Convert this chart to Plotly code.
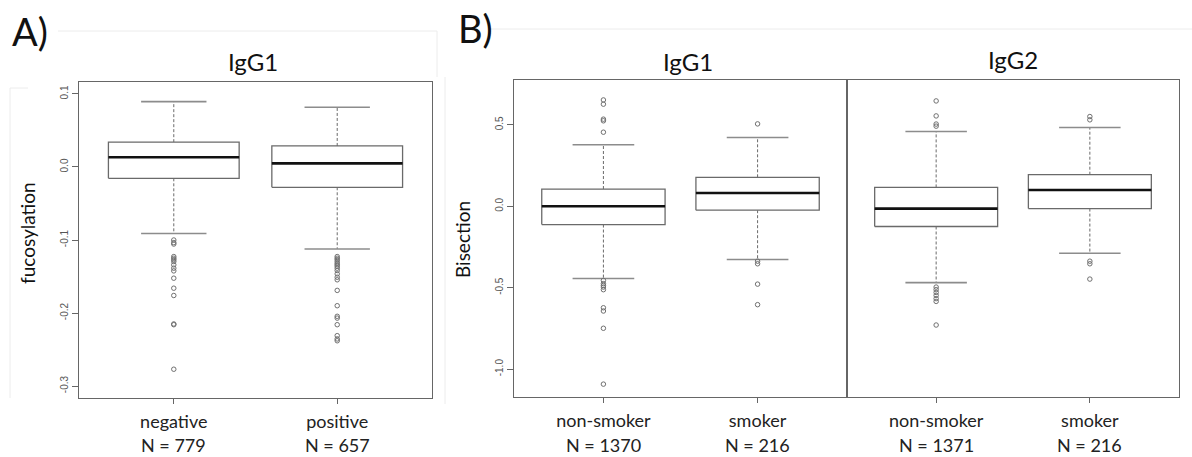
import plotly.graph_objects as go

W, H = 1192, 457

# ---------------- data ----------------
# Panel A: IgG1 fucosylation
a_categories = ["negative", "positive"]
a_counts = ["N = 779", "N = 657"]
a_q1 = [-0.0155, -0.0278]
a_median = [0.0133, 0.005]
a_q3 = [0.034, 0.0288]
a_lowerfence = [-0.091, -0.1123]
a_upperfence = [0.0895, 0.0818]
a_outliers = [
    [-0.100, -0.1036, -0.1055, -0.1227, -0.125, -0.127, -0.1295, -0.134, -0.1386,
     -0.1423, -0.1523, -0.166, -0.176, -0.215, -0.216, -0.277],
    [-0.1227, -0.125, -0.127, -0.1295, -0.132, -0.134, -0.136, -0.1386, -0.1418,
     -0.1464, -0.151, -0.1545, -0.169, -0.19, -0.2045, -0.207, -0.216, -0.231,
     -0.2355, -0.238],
]
a_yticks = [-0.3, -0.2, -0.1, 0.0, 0.1]
a_yticklabels = ["-0.3", "-0.2", "-0.1", "0.0", "0.1"]

# Panel B: Bisection, IgG1 and IgG2
b_categories = ["non-smoker", "smoker"]
b1_counts = ["N = 1370", "N = 216"]
b1_q1 = [-0.112, -0.024]
b1_median = [0.0, 0.082]
b1_q3 = [0.106, 0.178]
b1_lowerfence = [-0.443, -0.327]
b1_upperfence = [0.378, 0.4225]
b1_outliers = [
    [0.653, 0.627, 0.535, 0.525, 0.455, -0.455, -0.475, -0.486, -0.496, -0.512,
     -0.623, -0.643, -0.749, -1.092],
    [0.506, -0.337, -0.353, -0.478, -0.604],
]
b2_counts = ["N = 1371", "N = 216"]
b2_q1 = [-0.124, -0.014]
b2_median = [-0.014, 0.100]
b2_q3 = [0.116, 0.194]
b2_lowerfence = [-0.469, -0.288]
b2_upperfence = [0.459, 0.484]
b2_outliers = [
    [0.647, 0.555, 0.505, 0.492, -0.496, -0.512, -0.529, -0.547, -0.567, -0.584, -0.729],
    [0.551, 0.531, -0.337, -0.353, -0.447],
]
b_yticks = [-1.0, -0.5, 0.0, 0.5]
b_yticklabels = ["-1.0", "-0.5", "0.0", "0.5"]

positions = [1, 2]

# ---------------- helpers ----------------
BOXCOL = "#6a6a6a"
CAPCOL = "#8c8c8c"


def add_boxes(fig, xa, ya, q1, med, q3, lo, hi, outl, halfw=0.4, capw=0.2):
    bx, by, mx, my, wx, wy, cx, cy, ox, oy = [], [], [], [], [], [], [], [], [], []
    for i, p in enumerate(positions):
        bx += [p - halfw, p + halfw, p + halfw, p - halfw, p - halfw, None]
        by += [q1[i], q1[i], q3[i], q3[i], q1[i], None]
        mx += [p - halfw, p + halfw, None]
        my += [med[i], med[i], None]
        wx += [p, p, None, p, p, None]
        wy += [q3[i], hi[i], None, q1[i], lo[i], None]
        cx += [p - capw, p + capw, None, p - capw, p + capw, None]
        cy += [hi[i], hi[i], None, lo[i], lo[i], None]
        ox += [p] * len(outl[i])
        oy += outl[i]
    common = dict(xaxis=xa, yaxis=ya, showlegend=False, hoverinfo="skip")
    fig.add_trace(go.Scatter(x=wx, y=wy, mode="lines",
                             line=dict(color=BOXCOL, width=1, dash="3px,2px"), **common))
    fig.add_trace(go.Scatter(x=cx, y=cy, mode="lines",
                             line=dict(color=CAPCOL, width=1.6), **common))
    fig.add_trace(go.Scatter(x=bx, y=by, mode="lines", fill="toself", fillcolor="white",
                             line=dict(color=BOXCOL, width=1.3), **common))
    fig.add_trace(go.Scatter(x=mx, y=my, mode="lines",
                             line=dict(color="#111111", width=2.6), **common))
    fig.add_trace(go.Scatter(x=ox, y=oy, mode="markers",
                             marker=dict(symbol="circle-open", size=4.5,
                                         color="#707070", line=dict(width=1)), **common))


fig = go.Figure()
add_boxes(fig, "x", "y", a_q1, a_median, a_q3, a_lowerfence, a_upperfence, a_outliers)
add_boxes(fig, "x2", "y2", b1_q1, b1_median, b1_q3, b1_lowerfence, b1_upperfence, b1_outliers)
add_boxes(fig, "x3", "y3", b2_q1, b2_median, b2_q3, b2_lowerfence, b2_upperfence, b2_outliers)


def px_x(v):
    return v / W


def px_y(v):
    return 1 - v / H


LINE = "#666666"
LABFONT = dict(family="Lato", size=18, color="#222222")
xcommon = dict(range=[0.42, 2.58], tickvals=positions, ticks="outside", ticklen=5,
               tickcolor=LINE, showline=True, linecolor=LINE, linewidth=1.3, mirror=True,
               showgrid=False, zeroline=False, fixedrange=True, tickfont=LABFONT,
               ticklabelstandoff=2)
ycommon = dict(ticks="outside", ticklen=6, tickcolor=LINE, showline=True, linecolor=LINE,
               linewidth=1.3, mirror=True, showgrid=False, zeroline=False, tickangle=-90,
               tickfont=dict(family="Arial", size=10, color="#555555"))

fig.update_layout(
    width=W, height=H, margin=dict(l=0, r=0, t=0, b=0),
    paper_bgcolor="white", plot_bgcolor="white",
    xaxis=dict(domain=[px_x(79), px_x(432)], anchor="y", ticktext=a_categories, **xcommon),
    yaxis=dict(domain=[px_y(398), px_y(82)], anchor="x", range=[-0.3164, 0.1164],
               tickvals=a_yticks, ticktext=a_yticklabels, **ycommon),
    xaxis2=dict(domain=[px_x(514), px_x(847)], anchor="y2", ticktext=b_categories, **xcommon),
    yaxis2=dict(domain=[px_y(397), px_y(80)], anchor="x2", range=[-1.171, 0.7755],
                tickvals=b_yticks, ticktext=b_yticklabels, **ycommon),
    xaxis3=dict(domain=[px_x(847), px_x(1179)], anchor="y3", ticktext=b_categories, **xcommon),
    yaxis3=dict(domain=[px_y(397), px_y(80)], anchor="x3", range=[-1.171, 0.7755],
                showticklabels=False, ticks="", showline=True, linecolor=LINE,
                linewidth=1.3, mirror=True, showgrid=False, zeroline=False),
)

TFONT = dict(family="Lato", size=24, color="#111111")
ann = []
ann.append(dict(text="A)", x=px_x(10), y=px_y(31), xanchor="left", yanchor="middle",
                font=dict(family="Lato", size=38, color="#111111")))
ann.append(dict(text="B)", x=px_x(456), y=px_y(28), xanchor="left", yanchor="middle",
                font=dict(family="Lato", size=38, color="#111111")))
ann.append(dict(text="IgG1", x=px_x(253), y=px_y(62), xanchor="center", yanchor="middle", font=TFONT))
ann.append(dict(text="IgG1", x=px_x(688), y=px_y(62), xanchor="center", yanchor="middle", font=TFONT))
ann.append(dict(text="IgG2", x=px_x(1013), y=px_y(59), xanchor="center", yanchor="middle", font=TFONT))
ann.append(dict(text="fucosylation", x=px_x(28), y=px_y(233), textangle=-90,
                xanchor="center", yanchor="middle",
                font=dict(family="Lato", size=19, color="#111111")))
ann.append(dict(text="Bisection", x=px_x(463), y=px_y(240), textangle=-90,
                xanchor="center", yanchor="middle",
                font=dict(family="Lato", size=19, color="#111111")))
for a in ann:
    a.update(xref="paper", yref="paper", showarrow=False)

# group sizes under the category labels
for xa, counts in (("x", a_counts), ("x2", b1_counts), ("x3", b2_counts)):
    for p, n in zip(positions, counts):
        ann.append(dict(text=n, x=p, xref=xa, y=px_y(445), yref="paper",
                        xanchor="center", yanchor="middle", showarrow=False, font=LABFONT))
fig.update_layout(annotations=ann)

# faint frame lines from the original composite image
FAINT = "#ececec"
faint_lines = [
    (58, 31, 437, 31), (437, 31, 437, 77), (10, 88, 28, 88), (10, 88, 10, 398),
    (490, 29, 1192, 29), (445, 77, 445, 404),
]
shapes = []
for x0, y0, x1, y1 in faint_lines:
    shapes.append(dict(type="line", xref="paper", yref="paper", x0=px_x(x0), y0=px_y(y0),
                       x1=px_x(x1), y1=px_y(y1), line=dict(color=FAINT, width=1), layer="below"))
fig.update_layout(shapes=shapes)

fig.write_html("out.html", config={"displayModeBar": False},
               post_script="document.body.style.margin='0';document.body.style.overflow='hidden';")
